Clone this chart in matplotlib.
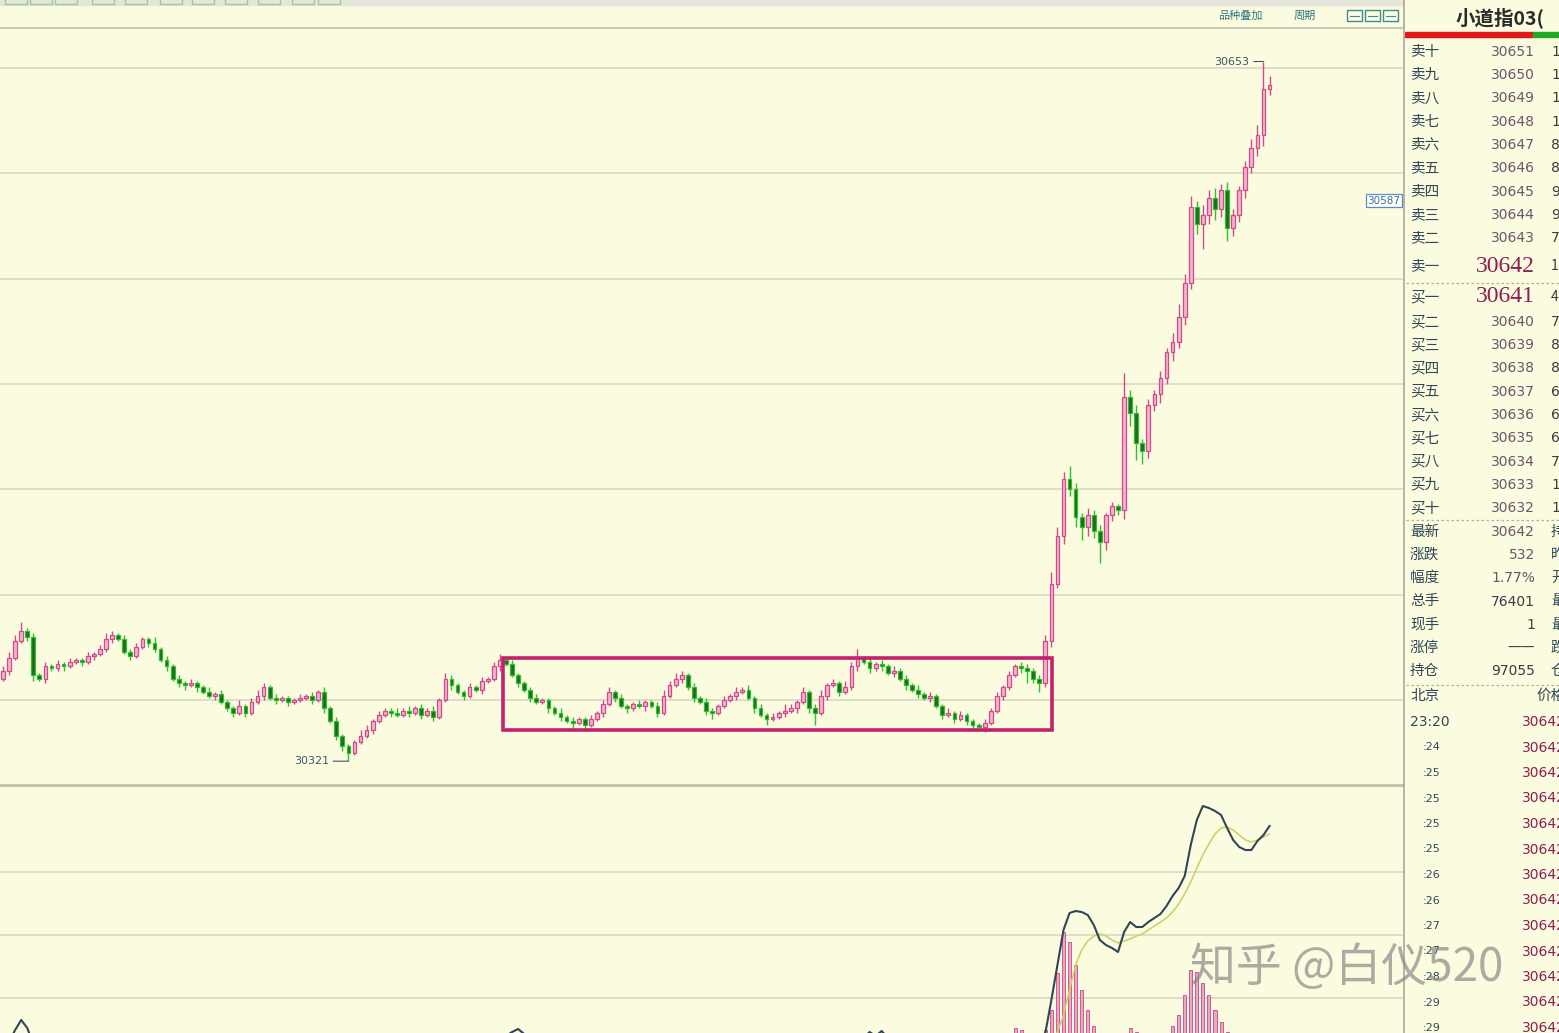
import numpy as np
import matplotlib.pyplot as plt
from matplotlib.patches import Rectangle

plt.rcParams['font.family'] = ['Noto Sans CJK SC', 'DejaVu Sans']

# ---- 1 minute bars (close values) ----
FIRST_OPEN = 30360
CLOSES = [
    30364, 30370, 30378, 30383, 30380, 30362, 30360, 30366, 30365, 30367,
    30366, 30368, 30369, 30368, 30371, 30372, 30374, 30379, 30381, 30379,
    30373, 30371, 30375, 30379, 30377, 30374, 30369, 30366, 30360, 30358,
    30357, 30358, 30356, 30354, 30352, 30353, 30349, 30346, 30344, 30347,
    30344, 30349, 30352, 30356, 30351, 30350, 30351, 30349, 30350, 30351,
    30352, 30350, 30354, 30346, 30340, 30333, 30328, 30325, 30330, 30333,
    30336, 30340, 30343, 30345, 30344, 30343, 30345, 30344, 30346, 30343,
    30345, 30342, 30350, 30360, 30357, 30354, 30352, 30356, 30355, 30359,
    30360, 30366, 30369, 30367, 30362, 30358, 30355, 30351, 30349, 30350,
    30346, 30344, 30342, 30340, 30339, 30341, 30338, 30341, 30344, 30348,
    30354, 30351, 30347, 30346, 30348, 30347, 30349, 30347, 30344, 30352,
    30357, 30360, 30362, 30356, 30351, 30349, 30345, 30344, 30347, 30350,
    30352, 30354, 30355, 30351, 30346, 30343, 30341, 30342, 30344, 30345,
    30346, 30349, 30354, 30346, 30344, 30352, 30357, 30358, 30354, 30356,
    30366, 30370, 30368, 30365, 30367, 30366, 30363, 30364, 30360, 30357,
    30355, 30353, 30351, 30352, 30347, 30343, 30344, 30341, 30343, 30340,
    30338, 30337, 30339, 30345, 30352, 30356, 30362, 30366, 30365, 30364,
    30360, 30358, 30378, 30405, 30428, 30455, 30450, 30437, 30432, 30438,
    30430, 30425, 30438, 30442, 30440, 30494, 30486, 30472, 30468, 30490,
    30495, 30503, 30515, 30520, 30532, 30548, 30584, 30576, 30580, 30588,
    30583, 30592, 30574, 30580, 30592, 30603, 30612, 30618, 30640, 30642,
]
UPPER_WICK = [
    2, 3, 3, 4, 1, 2, 1, 2, 1, 2,   1, 2, 1, 1, 2, 1, 2, 3, 2, 1,
    2, 1, 2, 1, 1, 3, 1, 2, 1, 2,   1, 2, 1, 1, 2, 1, 2, 1, 1, 3,
    1, 2, 3, 2, 1, 2, 1, 1, 1, 2,   1, 2, 1, 2, 1, 2, 1, 1, 1, 3,
    2, 1, 2, 1, 1, 2, 1, 2, 1, 2,   1, 2, 1, 3, 2, 1, 1, 2, 1, 2,
    1, 2, 3, 1, 2, 1, 1, 1, 2, 1,   1, 1, 2, 1, 2, 1, 1, 2, 1, 2,
    2, 1, 2, 1, 1, 2, 1, 1, 2, 3,   2, 3, 2, 1, 2, 1, 2, 1, 1, 2,
    1, 2, 1, 2, 1, 2, 1, 2, 1, 3,   2, 1, 2, 1, 2, 3, 1, 2, 1, 3,
    2, 4, 1, 2, 1, 2, 1, 2, 1, 2,   1, 2, 1, 2, 1, 1, 2, 1, 2, 1,
    1, 1, 2, 1, 2, 1, 2, 1, 2, 2,   1, 2, 3, 6, 4, 3, 6, 3, 2, 3,
    2, 3, 1, 2, 1, 11, 3, 4, 2, 3,  2, 3, 2, 4, 6, 4, 5, 3, 5, 4,
    5, 3, 4, 3, 2, 3, 4, 5, 13, 4,
]
LOWER_WICK = [
    1, 2, 1, 1, 2, 3, 1, 2, 1, 1,   2, 1, 1, 2, 1, 2, 1, 1, 2, 1,
    1, 2, 1, 1, 2, 1, 1, 2, 1, 2,   2, 1, 2, 1, 1, 2, 1, 1, 2, 1,
    2, 1, 1, 2, 1, 2, 1, 2, 1, 1,   1, 2, 1, 2, 1, 2, 2, 4, 1, 1,
    1, 2, 1, 1, 2, 1, 1, 2, 1, 2,   1, 2, 1, 1, 2, 1, 2, 1, 1, 2,
    1, 1, 2, 1, 1, 2, 1, 2, 1, 1,   2, 1, 2, 1, 3, 1, 2, 1, 1, 2,
    1, 2, 1, 2, 1, 1, 2, 1, 2, 1,   1, 1, 2, 1, 2, 1, 2, 3, 1, 1,
    1, 2, 1, 1, 2, 1, 3, 1, 1, 2,   1, 2, 1, 2, 6, 1, 2, 1, 2, 1,
    1, 2, 1, 2, 1, 2, 1, 2, 1, 2,   1, 2, 1, 2, 1, 2, 1, 2, 1, 2,
    2, 1, 2, 1, 1, 2, 1, 1, 2, 6,   2, 4, 2, 3, 2, 4, 3, 5, 6, 4,
    3, 10, 4, 3, 2, 4, 6, 8, 6, 3,  3, 4, 3, 4, 3, 4, 3, 5, 12, 4,
    5, 4, 6, 4, 3, 4, 3, 4, 5, 3,
]

# consolidation box (bar index / price)
BOX_START, BOX_END = 82.5, 173.1
BOX_TOP, BOX_BOTTOM = 30370, 30336
HIGH_LABEL, LOW_LABEL = 30653, 30321
CURSOR_PRICE = 30587

# ---- MACD sub chart (screen units, zero line sits just below the panel) ----
DIF = [
    -15, -2, 10, 20, 12, -4, -18, -25, -28, -30,
    -30, -28, -24, -20, -18, -16, -12, -10, -8, -10,
    -12, -14, -13, -12, -14, -18, -24, -30, -36, -40,
    -44, -46, -48, -50, -52, -52, -54, -56, -58, -56,
    -56, -52, -48, -44, -44, -44, -42, -42, -40, -38,
    -36, -36, -34, -38, -44, -52, -60, -66, -66, -62,
    -56, -50, -44, -40, -36, -34, -30, -28, -26, -26,
    -24, -24, -20, -12, -10, -10, -8, -6, -6, -4,
    -4, -2, 0, 4, 8, 11, 6, -4, -12, -16,
    -20, -24, -28, -32, -34, -34, -36, -34, -30, -26,
    -20, -18, -18, -18, -16, -16, -14, -14, -16, -12,
    -8, -4, -2, -4, -8, -12, -16, -20, -20, -18,
    -16, -14, -12, -14, -18, -22, -26, -28, -28, -26,
    -24, -22, -18, -20, -22, -18, -12, -8, -6, -4,
    -2, 2, 2, 8, 4, 9, 2, -2, -6, -10,
    -14, -18, -22, -24, -28, -32, -34, -36, -36, -38,
    -38, -38, -36, -32, -26, -18, -8, 0, 4, 0,
    -5, 2, 7, 40, 75, 110, 127, 129, 128, 125,
    115, 100, 95, 92, 88, 108, 118, 113, 113, 118,
    122, 126, 134, 144, 152, 164, 195, 220, 234, 232,
    229, 225, 212, 200, 193, 190, 190, 199, 205, 214,
]
DEA = [
    -20, -18, -14, -10, -6, -6, -8, -12, -16, -20,
    -22, -24, -24, -23, -22, -21, -19, -17, -15, -14,
    -14, -14, -14, -14, -14, -15, -17, -19, -23, -27,
    -31, -34, -37, -40, -43, -45, -47, -49, -51, -52,
    -53, -53, -52, -50, -49, -48, -47, -46, -45, -43,
    -42, -41, -40, -40, -41, -44, -47, -51, -54, -56,
    -56, -55, -53, -51, -48, -46, -43, -40, -37, -35,
    -33, -31, -29, -26, -23, -20, -18, -16, -14, -12,
    -11, -9, -7, -5, -3, -1, 0, -1, -3, -6,
    -9, -12, -15, -18, -21, -24, -27, -28, -29, -29,
    -28, -26, -24, -23, -22, -21, -20, -19, -18, -17,
    -16, -14, -12, -11, -11, -12, -13, -14, -15, -16,
    -16, -16, -15, -15, -15, -16, -18, -20, -22, -23,
    -23, -23, -22, -22, -22, -21, -19, -17, -15, -13,
    -11, -9, -7, -5, -3, -1, 0, 0, -1, -3,
    -5, -8, -10, -13, -16, -19, -22, -25, -27, -29,
    -31, -33, -34, -34, -33, -31, -28, -24, -20, -16,
    -14, -13, -10, -4, 8, 25, 50, 75, 90, 99,
    104, 106, 104, 100, 97, 99, 101, 104, 106, 110,
    114, 118, 122, 128, 136, 146, 158, 172, 185, 196,
    206, 212, 213, 210, 205, 200, 198, 200, 203, 206,
]
HIST_START = 160
HIST = [
    0, 0, 0, 0, 0, 0, 6, 12, 10, 4,
    0, 0, 10, 30, 67, 108, 98, 75, 50, 30,
    14, 4, 0, 0, 0, 6, 12, 8, 0, 0,
    0, 0, 6, 14, 25, 45, 70, 68, 57, 45,
    30, 18, 8, 0, 0, 0, 0, 0, 0, 0,
]

# ---- quote panel ----
TITLE = '小道指03('
ASK_LABELS = ['卖十', '卖九', '卖八', '卖七', '卖六', '卖五', '卖四', '卖三', '卖二', '卖一']
ASK_PRICES = [30651, 30650, 30649, 30648, 30647, 30646, 30645, 30644, 30643, 30642]
ASK_VOLS = ['1', '1', '1', '1', '8', '8', '9', '9', '7', '1']
BID_LABELS = ['买一', '买二', '买三', '买四', '买五', '买六', '买七', '买八', '买九', '买十']
BID_PRICES = [30641, 30640, 30639, 30638, 30637, 30636, 30635, 30634, 30633, 30632]
BID_VOLS = ['4', '7', '8', '8', '6', '6', '6', '7', '1', '1']
STAT_LABELS = ['最新', '涨跌', '幅度', '总手', '现手', '涨停', '持仓']
STAT_VALUES = ['30642', '532', '1.77%', '76401', '1', '——', '97055']
STAT_RIGHT = ['持', '昨', '开', '最', '最', '跌', '仓']
TICK_TIMES = ['23:20', ':24', ':25', ':25', ':25', ':25', ':26', ':26', ':27', ':27', ':28', ':29', ':29']
TICK_PRICES = ['30642'] * len(TICK_TIMES)

BG = '#fbfbdf'
GRID = '#d9d9c4'
UP_EDGE, UP_FACE = '#d14a8c', '#f3b3cf'
DN_EDGE, DN_FACE = '#2fbf2f', '#1f6a1f'

W, H = 1559, 1033
fig = plt.figure(figsize=(W / 100, H / 100), dpi=100, facecolor=BG)

PX = 6.06          # pixels per bar
X0 = 3             # pixel of first bar
XLIM = (-X0 / PX, (1403 - X0) / PX)

def px_ax(x0, y0, x1, y1):
    # axes given in screen pixels (top-left origin)
    return fig.add_axes([x0 / W, 1 - y1 / H, (x1 - x0) / W, (y1 - y0) / H])

# ---------------- price panel ----------------
ax = px_ax(0, 28, 1403, 785)
ax.set_facecolor(BG)
ax.set_xlim(*XLIM)
ax.set_ylim(30309.7, 30668.9)
for lvl in range(30350, 30651, 50):
    ax.axhline(lvl, color=GRID, lw=1.2, zorder=0)

closes = np.array(CLOSES, dtype=float)
opens = np.concatenate([[FIRST_OPEN], closes[:-1]])   # bar opens at previous close
xs = np.arange(len(closes))
tops = np.maximum(opens, closes)
bots = np.minimum(opens, closes)
highs = tops + np.array(UPPER_WICK)
lows = bots - np.array(LOWER_WICK)
up = closes >= opens

ax.vlines(xs[up], lows[up], highs[up], color=UP_EDGE, lw=1.0, zorder=2)
ax.vlines(xs[~up], lows[~up], highs[~up], color=DN_EDGE, lw=1.0, zorder=2)
body_h = np.maximum(tops - bots, 0.6)
ax.bar(xs[up], body_h[up], bottom=bots[up], width=0.62, color=UP_FACE,
       edgecolor=UP_EDGE, lw=0.9, zorder=3)
ax.bar(xs[~up], body_h[~up], bottom=bots[~up], width=0.62, color=DN_FACE,
       edgecolor=DN_EDGE, lw=0.9, zorder=3)

ax.add_patch(Rectangle((BOX_START, BOX_BOTTOM), BOX_END - BOX_START, BOX_TOP - BOX_BOTTOM,
                       fill=False, edgecolor='#c4206c', lw=2.6, zorder=5))

i_hi = int(np.argmax(highs))
i_lo = int(np.argmin(lows))
ax.annotate(str(HIGH_LABEL), xy=(i_hi, HIGH_LABEL), xytext=(-10, 0), textcoords='offset points',
            ha='right', va='center', fontsize=8, color='#3e5566', family='DejaVu Sans',
            arrowprops=dict(arrowstyle='-', color='#3e5566', lw=0.8, shrinkA=1, shrinkB=0))
ax.annotate(str(LOW_LABEL), xy=(i_lo, LOW_LABEL), xytext=(-14, 0), textcoords='offset points',
            ha='right', va='center', fontsize=8, color='#3e5566', family='DejaVu Sans',
            arrowprops=dict(arrowstyle='-', color='#3e5566', lw=0.8, shrinkA=1, shrinkB=0))
ax.text(XLIM[1] - 0.4, CURSOR_PRICE, str(CURSOR_PRICE), ha='right', va='center', fontsize=7.5,
        color='#3d6f9e', family='DejaVu Sans',
        bbox=dict(boxstyle='square,pad=0.15', fc='white', ec='#5b8cc4', lw=0.9), zorder=6)

ax.set_xticks([])
ax.set_yticks([])
for s in ['left', 'right', 'bottom']:
    ax.spines[s].set_visible(False)
ax.spines['top'].set_color('#c8c8b6')
ax.spines['top'].set_linewidth(1.5)

# ---------------- MACD panel ----------------
ax2 = px_ax(0, 785, 1403, 1033)
ax2.set_facecolor(BG)
ax2.set_xlim(*XLIM)
ax2.set_ylim(7, 255)
for lvl in [42, 105, 168]:
    ax2.axhline(lvl, color=GRID, lw=1.2, zorder=0)
hx = np.arange(HIST_START, HIST_START + len(HIST))
ax2.bar(hx, HIST, width=0.5, color='#eea6c6', edgecolor='#c24a86', lw=0.6, zorder=2)
ax2.plot(np.arange(len(DEA)), DEA, color='#c9d36a', lw=1.2, zorder=3)
ax2.plot(np.arange(len(DIF)), DIF, color='#2e4757', lw=1.5, zorder=4)
ax2.set_xticks([])
ax2.set_yticks([])
for s in ['left', 'right', 'bottom']:
    ax2.spines[s].set_visible(False)
ax2.spines['top'].set_color('#c0c0ae')
ax2.spines['top'].set_linewidth(2.0)

# ---------------- overlay in screen pixels ----------------
ov = fig.add_axes([0, 0, 1, 1], facecolor='none')
ov.set_xlim(0, W)
ov.set_ylim(H, 0)
ov.axis('off')

# top tool strip
ov.add_patch(Rectangle((0, 0), 1403, 5, color='#e4e6dc', zorder=1))
for bx in [5, 30, 55, 92, 125, 160, 192, 225, 258, 292, 318]:
    ov.add_patch(Rectangle((bx, -4), 22, 8, fill=False, ec='#9acb9a', lw=1.0, zorder=2))
ov.text(1240, 16, '品种叠加', ha='center', va='center', fontsize=8, color='#2b7480')
ov.text(1305, 16, '周期', ha='center', va='center', fontsize=8, color='#2b7480')
for bx in [1347, 1365, 1383]:
    ov.add_patch(Rectangle((bx, 10), 15, 11, fill=False, ec='#3f8a96', lw=1.0, zorder=2))
    ov.plot([bx + 3, bx + 12], [15.5, 15.5], color='#3f8a96', lw=0.8)

# quote panel
ov.plot([1404, 1404], [0, H], color='#a8a8a0', lw=1.2)
ov.text(1456, 18, TITLE, ha='left', va='center', fontsize=14, fontweight='bold', color='#2c2c2c')
ov.add_patch(Rectangle((1405, 32), 128, 5, color='#e01818'))
ov.add_patch(Rectangle((1533, 32), 30, 5, color='#22aa22'))

lab_c = '#2f4756'
num_c = '#6d5470'
big_c = '#8b1f55'
ask_y = np.linspace(52, 238, 9)
for k in range(9):
    ov.text(1410, ask_y[k], ASK_LABELS[k], ha='left', va='center', fontsize=10.5, color=lab_c)
    ov.text(1535, ask_y[k], str(ASK_PRICES[k]), ha='right', va='center', fontsize=10,
            color=num_c, family='DejaVu Sans')
    ov.text(1551, ask_y[k], ASK_VOLS[k], ha='left', va='center', fontsize=10,
            color='#3a3a3a', family='DejaVu Sans')
ov.text(1410, 266, ASK_LABELS[9], ha='left', va='center', fontsize=10.5, color=lab_c)
ov.text(1535, 266, str(ASK_PRICES[9]), ha='right', va='center', fontsize=17, color=big_c,
        family='Liberation Serif')
ov.text(1551, 266, ASK_VOLS[9], ha='left', va='center', fontsize=10, color='#3a3a3a')

ov.plot([1406, 1559], [283, 283], color='#b0b0a0', lw=0.9, ls=(0, (2, 2)))
ov.text(1410, 297, BID_LABELS[0], ha='left', va='center', fontsize=10.5, color=lab_c)
ov.text(1535, 297, str(BID_PRICES[0]), ha='right', va='center', fontsize=17, color=big_c,
        family='Liberation Serif')
ov.text(1551, 297, BID_VOLS[0], ha='left', va='center', fontsize=10, color='#3a3a3a')
bid_y = np.linspace(322, 508, 9)
for k in range(9):
    ov.text(1410, bid_y[k], BID_LABELS[k + 1], ha='left', va='center', fontsize=10.5, color=lab_c)
    ov.text(1535, bid_y[k], str(BID_PRICES[k + 1]), ha='right', va='center', fontsize=10,
            color=num_c, family='DejaVu Sans')
    ov.text(1551, bid_y[k], BID_VOLS[k + 1], ha='left', va='center', fontsize=10,
            color='#3a3a3a', family='DejaVu Sans')

ov.plot([1406, 1559], [520, 520], color='#b0b0a0', lw=0.9, ls=(0, (2, 2)))
stat_y = np.linspace(532, 671, 7)
for k in range(7):
    ov.text(1410, stat_y[k], STAT_LABELS[k], ha='left', va='center', fontsize=10.5, color=lab_c)
    vc = num_c if k < 3 else '#3a3a4a'
    ov.text(1535, stat_y[k], STAT_VALUES[k], ha='right', va='center', fontsize=10, color=vc,
            family='DejaVu Sans')
    ov.text(1551, stat_y[k], STAT_RIGHT[k], ha='left', va='center', fontsize=10.5, color=lab_c)

ov.plot([1406, 1559], [685, 685], color='#b0b0a0', lw=0.9, ls=(0, (2, 2)))
ov.text(1410, 696, '北京', ha='left', va='center', fontsize=10.5, color=lab_c)
ov.text(1536, 696, '价格', ha='left', va='center', fontsize=10.5, color=lab_c)
tick_y = np.linspace(722, 1028, len(TICK_TIMES))
for k, t in enumerate(TICK_TIMES):
    tx = 1410 if k == 0 else 1423
    ov.text(tx, tick_y[k], t, ha='left', va='center', fontsize=10 if k == 0 else 8,
            color=lab_c, family='DejaVu Sans')
    ov.text(1522, tick_y[k], TICK_PRICES[k], ha='left', va='center', fontsize=10,
            color=big_c, family='DejaVu Sans')

# watermark
ov.text(1190, 968, '知乎 @白仪520', ha='left', va='center', fontsize=33, color='#8a8a8a',
        alpha=0.7, zorder=10)

fig.savefig('out.png', dpi=100, facecolor=BG)
